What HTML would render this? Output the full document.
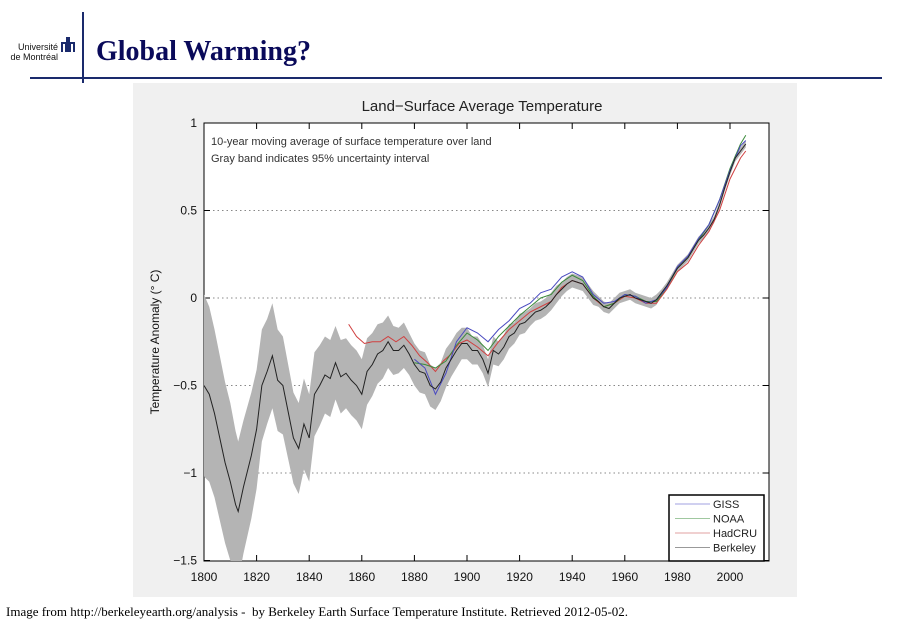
<!DOCTYPE html>
<html><head><meta charset="utf-8"><style>
body{margin:0;width:907px;height:625px;background:#fff;position:relative;overflow:hidden;font-family:"Liberation Serif",serif}
.a{position:absolute}
</style></head><body>
<div class="a" style="left:0px;top:42px;width:58px;font:9px 'Liberation Sans',sans-serif;text-align:right;line-height:10px;color:#111">Université<br>de Montréal</div>
<svg class="a" style="left:60px;top:37px" width="16" height="16"><path d="M2 15V6h4v9M7 15V1h2v14M10 15V6h4v9" fill="none" stroke="#1a2a6c" stroke-width="2"/></svg>
<div class="a" style="left:82px;top:12px;width:2px;height:71px;background:#1a2a6c"></div>
<div class="a" style="left:30px;top:77px;width:852px;height:2px;background:#1a2a6c"></div>
<div class="a" style="left:96px;top:36px;font:bold 28px 'Liberation Serif',serif;color:#0a0a5a">Global Warming?</div>
<div class="a" style="left:6px;top:604px;font:13px 'Liberation Serif',serif;color:#000">Image from http://berkeleyearth.org/analysis -&nbsp; by Berkeley Earth Surface Temperature Institute. Retrieved 2012-05-02.</div>
<svg class="a" id="chart" style="left:0;top:0" width="907" height="625" font-family="Liberation Sans, sans-serif"></svg>
<script>
const bYears=[1800,1802,1804,1806,1808,1810,1812,1813,1815,1818,1820,1822,1824,1826,1828,1830,1832,1834,1836,1838,1840,1842,1844,1846,1848,1850,1852,1854,1856,1858,1860,1862,1864,1866,1868,1870,1872,1874,1876,1878,1880,1882,1884,1886,1888,1890,1892,1894,1896,1898,1900,1902,1904,1906,1908,1910,1912,1914,1916,1918,1920,1922,1924,1926,1928,1930,1932,1934,1936,1938,1940,1942,1944,1946,1948,1950,1952,1954,1956,1958,1960,1962,1964,1966,1968,1970,1972,1974,1976,1978,1980,1982,1984,1986,1988,1990,1992,1994,1996,1998,2000,2002,2004,2006];
const bVals=[-0.5,-0.55,-0.66,-0.8,-0.94,-1.05,-1.18,-1.22,-1.08,-0.9,-0.75,-0.5,-0.42,-0.33,-0.47,-0.5,-0.65,-0.8,-0.86,-0.72,-0.8,-0.55,-0.5,-0.44,-0.46,-0.37,-0.45,-0.43,-0.47,-0.5,-0.55,-0.42,-0.38,-0.32,-0.3,-0.25,-0.3,-0.3,-0.27,-0.32,-0.38,-0.42,-0.43,-0.5,-0.52,-0.48,-0.4,-0.35,-0.3,-0.26,-0.26,-0.3,-0.3,-0.35,-0.43,-0.3,-0.32,-0.28,-0.22,-0.2,-0.15,-0.14,-0.11,-0.08,-0.07,-0.05,-0.02,0.02,0.05,0.08,0.1,0.09,0.08,0.04,0.0,-0.02,-0.05,-0.06,-0.03,0.0,0.01,0.02,0.0,-0.01,-0.02,-0.03,-0.01,0.03,0.07,0.12,0.17,0.2,0.23,0.28,0.33,0.36,0.4,0.45,0.53,0.63,0.72,0.8,0.84,0.88];
const bUnc=[0.52,0.5,0.48,0.47,0.46,0.45,0.42,0.4,0.38,0.36,0.34,0.32,0.3,0.3,0.29,0.28,0.27,0.26,0.26,0.26,0.25,0.24,0.23,0.22,0.22,0.21,0.21,0.2,0.2,0.2,0.2,0.19,0.18,0.17,0.16,0.15,0.14,0.13,0.13,0.12,0.12,0.12,0.12,0.12,0.12,0.11,0.11,0.1,0.1,0.09,0.09,0.08,0.08,0.08,0.08,0.08,0.07,0.07,0.07,0.06,0.06,0.06,0.05,0.05,0.05,0.05,0.05,0.05,0.04,0.04,0.04,0.04,0.04,0.04,0.04,0.03,0.03,0.03,0.03,0.03,0.03,0.03,0.03,0.03,0.03,0.03,0.03,0.02,0.02,0.02,0.02,0.02,0.02,0.02,0.02,0.02,0.02,0.02,0.02,0.02,0.02,0.02,0.02,0.02];
const gYears=[1880,1884,1888,1892,1896,1900,1904,1908,1912,1916,1920,1924,1928,1932,1936,1940,1944,1948,1952,1956,1960,1964,1968,1972,1976,1980,1984,1988,1992,1996,2000,2004,2006];
const gissVals=[-0.35,-0.4,-0.55,-0.43,-0.25,-0.17,-0.2,-0.25,-0.18,-0.13,-0.06,-0.03,0.03,0.05,0.12,0.15,0.12,0.02,-0.03,-0.02,0.02,0.01,-0.03,-0.01,0.06,0.18,0.24,0.34,0.42,0.56,0.73,0.87,0.9];
const noaaVals=[-0.37,-0.38,-0.4,-0.36,-0.27,-0.2,-0.24,-0.3,-0.22,-0.16,-0.1,-0.05,0.0,0.02,0.09,0.13,0.1,0.01,-0.05,-0.03,0.02,0.01,-0.02,-0.02,0.06,0.17,0.23,0.33,0.42,0.56,0.74,0.88,0.93];
const hYears=[1855,1858,1861,1864,1867,1870,1873,1876,1879,1882,1885,1888,1891,1894,1897,1900,1904,1908,1912,1916,1920,1924,1928,1932,1936,1940,1944,1948,1952,1956,1960,1964,1968,1972,1976,1980,1984,1988,1992,1996,2000,2004,2006];
const hadVals=[-0.15,-0.22,-0.26,-0.25,-0.25,-0.22,-0.25,-0.22,-0.27,-0.33,-0.37,-0.42,-0.36,-0.32,-0.26,-0.24,-0.28,-0.33,-0.25,-0.18,-0.13,-0.08,-0.05,-0.02,0.06,0.1,0.08,0.0,-0.05,-0.03,0.01,0.0,-0.03,-0.03,0.05,0.15,0.2,0.3,0.38,0.5,0.68,0.8,0.84];
const xTicks=[1800,1820,1840,1860,1880,1900,1920,1940,1960,1980,2000];
const yTicks=[1,0.5,0,-0.5,-1,-1.5];
const yTickLabels=["1","0.5","0","\u22120.5","\u22121","\u22121.5"];

const svg=document.getElementById('chart');const NS='http://www.w3.org/2000/svg';
const X=y=>204+(y-1800)*2.63, Y=v=>298-v*175;
function mk(t,a,p){const e=document.createElementNS(NS,t);for(const k in a)e.setAttribute(k,a[k]);(p||svg).appendChild(e);return e;}
const panel=mk('rect',{x:133,y:83,width:664,height:514,fill:'#f0f0f0'});


const plot=mk('rect',{x:204,y:123,width:565,height:438,fill:'#fff',stroke:'#000','stroke-width':1});


const tt=mk('text',{x:482,y:111,'text-anchor':'middle','font-size':15,fill:'#222'});tt.textContent='Land\u2212Surface Average Temperature';


yTicks.forEach((v,i)=>{
  if(v<1&&v>-1.5){const g=mk('line',{x1:204,x2:769,y1:Y(v),y2:Y(v),stroke:'#888','stroke-dasharray':'1.5 3'});
  
  }
  mk('line',{x1:204,x2:210,y1:Y(v),y2:Y(v),stroke:'#000'});mk('line',{x1:763,x2:769,y1:Y(v),y2:Y(v),stroke:'#000'});
  const t=mk('text',{x:197,y:Y(v)+4,'text-anchor':'end','font-size':12,fill:'#111'});t.textContent=yTickLabels[i];
  
  
});
xTicks.forEach(yr=>{
  mk('line',{x1:X(yr),x2:X(yr),y1:561,y2:555,stroke:'#000'});mk('line',{x1:X(yr),x2:X(yr),y1:123,y2:129,stroke:'#000'});
  const t=mk('text',{x:X(yr),y:581,'text-anchor':'middle','font-size':12,fill:'#111'});t.textContent=yr;
  
  
});
const yl=mk('text',{transform:'translate(159,342) rotate(-90)','text-anchor':'middle','font-size':12,fill:'#111'});yl.textContent='Temperature Anomaly (\u00b0 C)';


const n1=mk('text',{x:211,y:145,'font-size':11,fill:'#333'});n1.textContent='10-year moving average of surface temperature over land';


const n2=mk('text',{x:211,y:162,'font-size':11,fill:'#333'});n2.textContent='Gray band indicates 95% uncertainty interval';


const cp=mk('clipPath',{id:'cp'});mk('rect',{x:204,y:123,width:565,height:438},cp);
const g=mk('g',{'clip-path':'url(#cp)'});
let up=bYears.map((y,i)=>X(y)+','+Y(bVals[i]+bUnc[i])),lo=bYears.map((y,i)=>X(y)+','+Y(bVals[i]-bUnc[i])).reverse();
const band=mk('polygon',{points:up.concat(lo).join(' '),fill:'#b4b4b4'},g);


function line(ys,vs,c,n){const p=mk('polyline',{points:ys.map((y,i)=>X(y)+','+Y(vs[i])).join(' '),fill:'none',stroke:c,'stroke-width':1},g);

}
line(hYears,hadVals,'#d04040','hadcru-line');
line(gYears,noaaVals,'#3a8a3a','noaa-line');
line(gYears,gissVals,'#4a4ac0','giss-line');
line(bYears,bVals,'#222','berkeley-line');
const lg=mk('rect',{x:669,y:495,width:95,height:66,fill:'#fff',stroke:'#000','stroke-width':1.5});


[['GISS','#a0a0e0'],['NOAA','#a0c8a0'],['HadCRU','#e0a0a0'],['Berkeley','#999']].forEach((d,i)=>{
  const y=504+i*14.5;mk('line',{x1:675,x2:710,y1:y,y2:y,stroke:d[1]});
  const t=mk('text',{x:713,y:y+4,'font-size':11,fill:'#222'});t.textContent=d[0];
  
  
});
</script>
</body></html>
